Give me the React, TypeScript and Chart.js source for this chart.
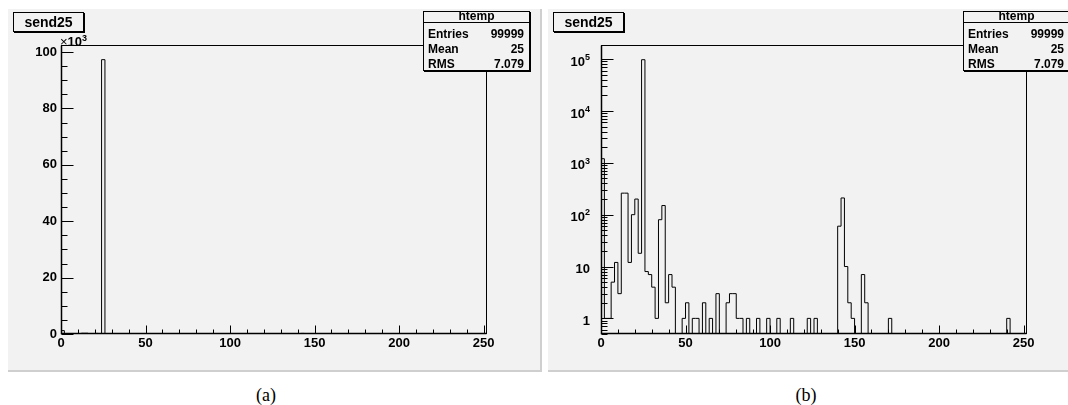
import React, { useEffect, useRef } from "react";
import { Chart, registerables } from "chart.js";

Chart.register(...registerables);

// ---------------- data ----------------
const histTitle = "send25";
const statsName = "htemp";
const statsLabels = ["Entries", "Mean", "RMS"];
const statsValues = ["99999", "25", "7.079"];
const panelCaptions = ["(a)", "(b)"];

const xMin = 0;
const xMax = 252;
const binWidth = 2;
// lower edges of the non-empty bins, and their contents
const binLowEdges = [
  0, 2, 4, 6, 8, 10, 12, 14, 16, 18, 20, 22,
  24, 26, 28, 30, 32, 34, 36, 38, 40, 42,
  48, 50, 54, 56, 60, 64, 68,
  74, 76, 78, 80, 82,
  86, 92, 98, 104, 112, 122, 126,
  140, 142, 144, 146, 148,
  154, 156,
  170, 240,
];
const binCounts = [
  1200, 1, 1, 5, 12, 3, 260, 260, 12, 100, 200, 18,
  97300, 8, 7, 4, 1, 80, 150, 2, 7, 4,
  1, 2, 1, 1, 2, 1, 3,
  2, 3, 3, 1, 1,
  1, 1, 1, 1, 1, 1, 1,
  60, 210, 10, 2, 1,
  7, 2,
  1, 1,
];

const xTicks = [0, 50, 100, 150, 200, 250];
const linYTicks = [0, 20000, 40000, 60000, 80000, 100000];
const linYTickLabels = ["0", "20", "40", "60", "80", "100"];
const linYMax = 102500;
const logYTicks = [1, 10, 100, 1000, 10000, 100000];
const logYTickBase = ["1", "10", "10", "10", "10", "10"];
const logYTickExp = ["", "", "2", "3", "4", "5"];
const logYMin = 0.5;
const logYMax = 187000;

// ---------------- styling ----------------
const FONT = '"Liberation Sans", Arial, Helvetica, sans-serif';
const PANEL_W = 532;
const PANEL_H = 361;
const PANEL_TOP = 9;
const PANEL_BG = "#f2f2f2";

function buildSteps(floor: number) {
  const n = Math.round((xMax - xMin) / binWidth);
  const counts: number[] = new Array(n).fill(0);
  binLowEdges.forEach((e, i) => {
    counts[Math.round((e - xMin) / binWidth)] = binCounts[i];
  });
  const pts: { x: number; y: number }[] = [{ x: xMin, y: floor }];
  for (let i = 0; i < n; i++) {
    pts.push({ x: xMin + i * binWidth, y: Math.max(counts[i], floor) });
  }
  pts.push({ x: xMax, y: floor });
  return pts;
}

function framePlugin(isLog: boolean) {
  return {
    id: "rootFrame" + (isLog ? "Log" : "Lin"),
    afterDatasetsDraw(chart: any) {
      const { ctx, chartArea: a } = chart;
      const xs = chart.scales.x;
      const ys = chart.scales.y;
      const L = Math.round(a.left) + 0.5;
      const R = Math.round(a.right) - 0.5;
      const T = Math.round(a.top) + 0.5;
      const B = Math.round(a.bottom) - 0.5;
      ctx.save();
      ctx.strokeStyle = "#000";
      ctx.lineWidth = 1;
      ctx.strokeRect(L, T, R - L, B - T);
      ctx.beginPath();
      for (let v = xMin; v <= xMax; v += 10) {
        const px = Math.round(xs.getPixelForValue(v)) + 0.5;
        const len = v % 50 === 0 ? 8 : 4;
        ctx.moveTo(px, B);
        ctx.lineTo(px, B - len);
      }
      if (isLog) {
        for (let e = -1; e <= 5; e++) {
          for (let m = 1; m <= 9; m++) {
            const v = m * Math.pow(10, e);
            if (v < logYMin - 1e-9 || v > logYMax) continue;
            const py = Math.round(ys.getPixelForValue(v)) + 0.5;
            const len = m === 1 ? 12 : 6;
            ctx.moveTo(L, py);
            ctx.lineTo(L + len, py);
          }
        }
      } else {
        for (let v = 0; v <= linYMax; v += 5000) {
          const py = Math.round(ys.getPixelForValue(v)) + 0.5;
          const len = v % 20000 === 0 ? 12 : 6;
          ctx.moveTo(L, py);
          ctx.lineTo(L + len, py);
        }
      }
      ctx.stroke();
      // slightly heavier axis lines
      ctx.beginPath();
      ctx.lineWidth = 1.5;
      ctx.moveTo(L, T);
      ctx.lineTo(L, B);
      ctx.lineTo(R, B);
      ctx.stroke();

      if (isLog) {
        ctx.fillStyle = "#000";
        ctx.textBaseline = "alphabetic";
        logYTicks.forEach((v, i) => {
          const py = ys.getPixelForValue(v);
          const right = a.left - 11;
          const exp = logYTickExp[i];
          ctx.font = `bold 9px ${FONT}`;
          const ew = exp ? ctx.measureText(exp).width : 0;
          ctx.font = `bold 13px ${FONT}`;
          ctx.textAlign = "right";
          ctx.fillText(logYTickBase[i], right - ew, py + 6.6);
          if (exp) {
            ctx.font = `bold 9px ${FONT}`;
            ctx.textAlign = "left";
            ctx.fillText(exp, right - ew, py + 0.7);
          }
        });
      }
      ctx.restore();
    },
  };
}

function buildConfig(isLog: boolean): any {
  const floor = isLog ? logYMin : 0;
  const tickFont = { family: FONT, size: 13, weight: "bold" as const };
  const yScale = isLog
    ? {
        type: "logarithmic",
        min: logYMin,
        max: logYMax,
        grid: { display: false, drawTicks: false },
        border: { display: false },
        ticks: { display: false },
        afterFit: (s: any) => {
          s.width = 53;
        },
      }
    : {
        type: "linear",
        min: 0,
        max: linYMax,
        grid: { display: false, drawTicks: false },
        border: { display: false },
        ticks: {
          font: tickFont,
          color: "#000",
          padding: 4,
          autoSkip: false,
          callback: (v: number) => {
            const idx = linYTicks.indexOf(v);
            return idx >= 0 ? linYTickLabels[idx] : "";
          },
        },
        afterBuildTicks: (s: any) => {
          s.ticks = linYTicks.map((v) => ({ value: v }));
        },
        afterFit: (s: any) => {
          s.width = 53;
        },
      };
  return {
    type: "line",
    data: {
      datasets: [
        {
          data: buildSteps(floor),
          stepped: "before",
          borderColor: "#000",
          borderWidth: 1,
          pointRadius: 0,
          pointHoverRadius: 0,
          fill: false,
          tension: 0,
        },
      ],
    },
    options: {
      responsive: false,
      animation: false,
      devicePixelRatio: 1,
      events: [],
      layout: { padding: { left: 0, right: 53, top: 36, bottom: 0 } },
      plugins: {
        legend: { display: false },
        tooltip: { enabled: false },
        title: { display: false },
      },
      scales: {
        x: {
          type: "linear",
          min: xMin,
          max: xMax,
          grid: { display: false, drawTicks: false },
          border: { display: false },
          ticks: {
            font: tickFont,
            color: "#000",
            padding: 2,
            maxRotation: 0,
            autoSkip: false,
            callback: (v: number) => String(v),
          },
          afterBuildTicks: (s: any) => {
            s.ticks = xTicks.map((v) => ({ value: v }));
          },
          afterFit: (s: any) => {
            s.height = 36;
          },
        },
        y: yScale,
      },
    },
    plugins: [framePlugin(isLog)],
  };
}

function Panel({ left, isLog, caption }: { left: number; isLog: boolean; caption: string }) {
  const ref = useRef<HTMLCanvasElement>(null);
  useEffect(() => {
    if (!ref.current) return;
    const chart = new Chart(ref.current, buildConfig(isLog));
    return () => chart.destroy();
  }, [isLog]);

  const boxText = (S: number, baseline: number) => ({
    position: "absolute" as const,
    top: baseline - 0.8465 * S,
    fontFamily: FONT,
    fontWeight: 700,
    fontSize: S,
    lineHeight: `${S}px`,
    whiteSpace: "nowrap" as const,
    color: "#000",
  });

  return (
    <>
      <div
        style={{
          position: "absolute",
          left,
          top: PANEL_TOP,
          width: PANEL_W,
          height: PANEL_H,
          background: PANEL_BG,
          borderRight: "2px solid #cfcfcf",
          borderBottom: "2px solid #cfcfcf",
        }}
      >
        <canvas
          ref={ref}
          width={PANEL_W}
          height={PANEL_H}
          style={{ position: "absolute", left: 0, top: 0, width: PANEL_W, height: PANEL_H }}
        />
        {/* title box */}
        <div
          style={{
            position: "absolute",
            left: 5,
            top: 2.5,
            width: 71,
            height: 20,
            boxSizing: "border-box",
            border: "1px solid #000",
            boxShadow: "1px 1px 0 #000",
            background: PANEL_BG,
          }}
        />
        <div style={{ ...boxText(14, 18), left: 5, width: 71, textAlign: "center" }}>{histTitle}</div>
        {/* stats box */}
        <div
          style={{
            position: "absolute",
            left: 415,
            top: 2,
            width: 107,
            height: 59.5,
            boxSizing: "border-box",
            border: "1px solid #000",
            boxShadow: "1px 1px 0 #000",
            background: PANEL_BG,
          }}
        />
        <div style={{ position: "absolute", left: 415, top: 13, width: 107, height: 1, background: "#000" }} />
        <div style={{ ...boxText(12, 10.8), left: 415, width: 107, textAlign: "center" }}>{statsName}</div>
        {statsLabels.map((lab, i) => (
          <React.Fragment key={lab}>
            <div style={{ ...boxText(12, 29 + i * 15.1), left: 420 }}>{lab}</div>
            <div style={{ ...boxText(12, 29 + i * 15.1), left: 420, width: 96, textAlign: "right" }}>
              {statsValues[i]}
            </div>
          </React.Fragment>
        ))}
        {!isLog && (
          <div
            style={{
              position: "absolute",
              left: 52,
              top: 26,
              fontFamily: FONT,
              fontSize: 13,
              lineHeight: "14px",
              whiteSpace: "nowrap",
              color: "#000",
            }}
          >
            <span>×</span>
            <span style={{ fontWeight: 700 }}>10</span>
            <span style={{ fontWeight: 700, fontSize: 9, position: "relative", top: -5 }}>3</span>
          </div>
        )}
      </div>
      <div
        style={{
          position: "absolute",
          left: left + 258 - 50,
          top: 385,
          width: 100,
          textAlign: "center",
          fontFamily: '"Liberation Serif", "Times New Roman", serif',
          fontSize: 18,
          lineHeight: "20px",
          color: "#000",
        }}
      >
        {caption}
      </div>
    </>
  );
}

export default function App() {
  return (
    <div
      style={{
        position: "absolute",
        left: 0,
        top: 0,
        width: 1068,
        height: 405,
        overflow: "hidden",
        background: "#fff",
      }}
    >
      <Panel left={8} isLog={false} caption={panelCaptions[0]} />
      <Panel left={548} isLog={true} caption={panelCaptions[1]} />
    </div>
  );
}
